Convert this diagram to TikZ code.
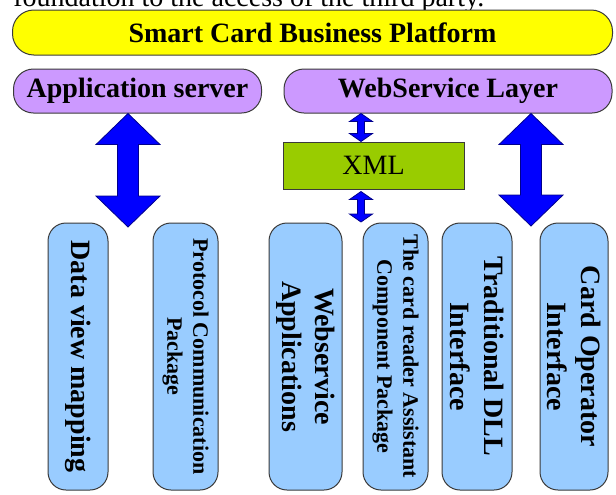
\documentclass[tikz,border=0pt]{standalone}
\usepackage{fontspec}
\setmainfont{Liberation Serif}
\usetikzlibrary{calc}
\definecolor{platyellow}{HTML}{FFFF00}
\definecolor{layerpurple}{HTML}{CC99FF}
\definecolor{xmlgreen}{HTML}{99CC00}
\definecolor{partblue}{HTML}{99CCFF}
\definecolor{arrowblue}{HTML}{0000FF}
\definecolor{arrowedge}{HTML}{00008C}
\definecolor{edgegray}{HTML}{3A3A3A}

\begin{document}
\begin{tikzpicture}[x=0.75pt,y=-0.75pt,
	bigtext/.style={font=\bfseries\fontsize{21}{25}\selectfont},
	smalltext/.style={font=\bfseries\fontsize{16.5}{19.5}\selectfont},
	layer/.style={draw=edgegray,line width=0.75pt,inner sep=0pt,minimum height=33pt,bigtext},
	part/.style={draw=edgegray,line width=0.75pt,fill=partblue,rounded corners=13.5pt,rotate=-90,align=center,inner sep=0pt,minimum width=200.25pt},
	dblarrow/.style n args={3}{draw=arrowedge,fill=arrowblue,line width=0.6pt,
		to path={($(\tikztostart)$) -- ++(#1,#3) -- ++(#2-#1,0) -- ($(\tikztotarget)+(#2,-#3)$) -- ++(#1-#2,0) -- (\tikztotarget) -- ++(-#1,-#3) -- ++(#1-#2,0) -- ($(\tikztostart)+(-#2,#3)$) -- ++(#2-#1,0) -- cycle}}]
\useasboundingbox (0,0) rectangle (616,494);
\node [anchor=base west,inner sep=0pt,font=\fontsize{21}{24}\selectfont] (caption) at (13,6.5) {foundation to the access of the third party.};
\node [layer,fill=platyellow,rounded corners=16pt,minimum width=450pt,minimum height=33.75pt] (platform) at (312.5,32.5) {Smart Card Business Platform};
\node [layer,fill=layerpurple,rounded corners=15pt,minimum width=186pt] (appsrv) at (137.5,91) {Application server};
\node [layer,fill=layerpurple,rounded corners=15pt,minimum width=246pt] (wslayer) at (448,91) {WebService Layer};
\node [draw=edgegray,line width=0.75pt,fill=xmlgreen,minimum width=135.75pt,minimum height=35.25pt,font=\fontsize{21}{24}\selectfont] (xml) at (373.5,165.5) {XML};
\node [part,minimum height=45pt,bigtext] (dvmap) at (78,356.5) {Data view mapping};
\node [part,minimum height=48.75pt,smalltext] (protocol) at (185.5,356.5) {Protocol Communication\\Package};
\node [part,minimum height=54.75pt,bigtext] (webapp) at (305.5,356.5) {Webservice\\Applications};
\node [part,minimum height=48.75pt,smalltext] (reader) at (395.5,356.5) {The card reader Assistant\\Component Package};
\node [part,minimum height=52.5pt,bigtext] (dll) at (477,356.5) {Traditional DLL\\Interface};
\node [part,minimum height=51pt,bigtext] (operator) at (574,356.5) {Card Operator\\Interface};
\coordinate (la-t) at (appsrv.south -| 128,0);
\coordinate (la-b) at (128,227);
\coordinate (ra-t) at (wslayer.south -| 531,0);
\coordinate (ra-b) at (531,226);
\coordinate (ua-t) at (wslayer.south -| 361,0);
\coordinate (ua-b) at (xml.north -| 361,0);
\coordinate (da-t) at ([yshift=-1.5pt]xml.south -| 361,0);
\coordinate (da-b) at (361,222);
\draw [dblarrow={32}{10.5}{31}] (la-t) to (la-b);
\draw [dblarrow={32}{10.5}{31}] (ra-t) to (ra-b);
\draw [dblarrow={11.5}{3.5}{8}] (ua-t) to (ua-b);
\draw [dblarrow={11.5}{3.5}{8}] (da-t) to (da-b);
\end{tikzpicture}
\end{document}
